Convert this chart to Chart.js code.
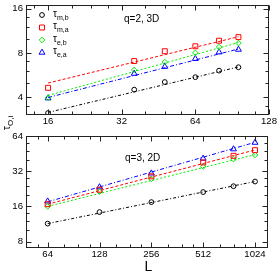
<!DOCTYPE html>
<html><head><meta charset="utf-8">
<script src="https://cdn.jsdelivr.net/npm/chart.js"></script>
<style>
html,body{margin:0;padding:0;background:#fff;}
body{width:280px;height:273px;overflow:hidden;position:relative;font-family:"Liberation Sans",Arial,sans-serif;color:#000;}
canvas{position:absolute;left:0;}
.t{position:absolute;white-space:nowrap;line-height:1;}
.lg{position:absolute;white-space:nowrap;line-height:1;font-size:10px;}
.lg .s{font-size:7px;position:relative;top:3px;}
</style></head><body>
<canvas id="c1" width="280" height="128" style="top:0"></canvas>
<canvas id="c2" width="280" height="145" style="top:128px"></canvas>
<div class="t" style="left:124px;top:13.5px;font-size:10px;">q=2, 3D</div>
<div class="t" style="left:125px;top:152.5px;font-size:10px;">q=3, 2D</div>
<div class="t" style="left:144.5px;top:259px;font-size:14px;">L</div>
<div style="position:absolute;left:5.5px;top:123px;width:0;height:0;">
  <span style="position:absolute;left:0;top:0;white-space:nowrap;line-height:1;font-size:11px;transform:translate(-50%,-50%) rotate(-90deg);">τ<span style="font-size:8px;position:relative;top:3px;">O,i</span></span>
</div>
<div class="lg" style="left:53px;top:8.5px;">τ<span class="s">m,b</span></div>
<div class="lg" style="left:53px;top:21px;">τ<span class="s">m,a</span></div>
<div class="lg" style="left:53px;top:33.5px;">τ<span class="s">e,b</span></div>
<div class="lg" style="left:53px;top:46px;">τ<span class="s">e,a</span></div>
<script>
// ---------- data: top panel (q=2, 3D) ----------
const topL = [16, 36, 48, 64, 80, 96];
const top_tau_mb = [3.12, 4.50, 5.07, 5.47, 6.06, 6.39];
const top_tau_ma = [4.63, 7.04, 8.21, 8.87, 9.68, 10.24];
const top_tau_eb = [3.96, 6.13, 6.93, 8.00, 8.77, 9.33];
const top_tau_ea = [3.94, 5.79, 6.45, 7.30, 8.09, 8.43];
const topFitL = [16, 96];
const top_fit_mb = [3.15, 6.42];
const top_fit_ma = [4.99, 10.3];
const top_fit_eb = [4.11, 9.4];
const top_fit_ea = [3.98, 8.5];
const topXTicks = [16, 32, 64, 128];
const topYTicks = [4, 8, 16];

// ---------- data: bottom panel (q=3, 2D) ----------
const botL = [64, 128, 256, 512, 768, 1024];
const bot_tau_mb = [11.4, 14.3, 17.4, 21.2, 23.8, 26.1];
const bot_tau_ma = [16.7, 22.2, 28.9, 38.0, 43.3, 48.4];
const bot_tau_eb = [16.0, 21.4, 27.5, 35.1, 40.6, 44.1];
const bot_tau_ea = [17.7, 23.4, 30.7, 41.1, 49.4, 56.2];
const botFitL = [64, 1024];
const bot_fit_mb = [11.4, 26.1];
const bot_fit_ma = [16.7, 48.6];
const bot_fit_eb = [16.0, 44.3];
const bot_fit_ea = [17.5, 56.5];
const botXTicks = [64, 128, 256, 512, 1024];
const botYTicks = [8, 16, 32, 64];

const seriesStyle = [
  {color:'#000000', point:'circle',   r:2.4, dash:[3,2,1,2]},
  {color:'#ff0000', point:'rect',     r:3.5, dash:[3,2]},
  {color:'#00ee00', point:'rectRot',  r:2.8, dash:[2,2]},
  {color:'#0000ff', point:'triangle', r:3.4, dash:[4,2,1,2]}
];

function pts(xs, ys){ return xs.map((x,i)=>({x:x, y:ys[i]})); }
function minorTicks(majors, min, max){
  const out = [];
  const base = [majors[0]/2].concat(majors);
  base.forEach(m => [1.25,1.5,1.75].forEach(f => { const v = m*f; if (v > min && v < max) out.push(v); }));
  return out;
}

function drawMarker(ctx, style, x, y, r, color){
  ctx.save();
  ctx.strokeStyle = color; ctx.lineWidth = 1;
  ctx.beginPath();
  if (style === 'circle') { ctx.arc(x, y, r, 0, Math.PI*2); }
  else if (style === 'rect') { const s = Math.SQRT1_2*r; ctx.rect(x-s, y-s, 2*s, 2*s); }
  else if (style === 'rectRot') { ctx.moveTo(x, y-r); ctx.lineTo(x+r, y); ctx.lineTo(x, y+r); ctx.lineTo(x-r, y); ctx.closePath(); }
  else if (style === 'triangle') {
    const a = -Math.PI/2;
    for (let k=0;k<3;k++){ const t = a + k*2*Math.PI/3; const px = x + Math.cos(t)*r, py = y + Math.sin(t)*r; k? ctx.lineTo(px,py) : ctx.moveTo(px,py); }
    ctx.closePath();
  }
  ctx.stroke();
  ctx.restore();
}

const frameTicks = {
  id: 'frameTicks',
  afterDraw(chart, args, o){
    const ctx = chart.ctx, a = chart.chartArea;
    const xs = chart.scales.x, ys = chart.scales.y;
    ctx.save();
    ctx.strokeStyle = '#222'; ctx.lineWidth = 1;
    const L = Math.round(a.left)+0.5, R = Math.round(a.right)-0.5, T = Math.round(a.top)+0.5, B = Math.round(a.bottom)-0.5;
    ctx.strokeRect(L, T, R-L, B-T);
    ctx.beginPath();
    const xt = (vals, len) => vals.forEach(v => { const p = Math.round(xs.getPixelForValue(v))+0.5; ctx.moveTo(p,B); ctx.lineTo(p,B-len); ctx.moveTo(p,T); ctx.lineTo(p,T+len); });
    const yt = (vals, len) => vals.forEach(v => { const p = Math.round(ys.getPixelForValue(v))+0.5; ctx.moveTo(L,p); ctx.lineTo(L+len,p); ctx.moveTo(R,p); ctx.lineTo(R-len,p); });
    xt(o.xMajor, 5); xt(o.xMinor, 3); yt(o.yMajor, 5); yt(o.yMinor, 3);
    ctx.stroke();
    ctx.restore();
    if (o.legend) o.legend.forEach(it => drawMarker(ctx, it.point, it.x, it.y, it.r, it.color));
  }
};

function makeDatasets(xs, series, fitX, fits){
  const ds = [];
  series.forEach((s,i) => {
    const st = seriesStyle[i];
    ds.push({data: pts(xs, s), showLine:false, pointStyle:st.point, pointRadius:st.r, pointBorderWidth:1,
      pointBorderColor:st.color, pointBackgroundColor:'rgba(0,0,0,0)', borderColor:st.color, backgroundColor:'rgba(0,0,0,0)'});
  });
  fits.forEach((f,i) => {
    const st = seriesStyle[i];
    ds.push({data: pts(fitX, f), showLine:true, pointRadius:0, borderWidth:1, borderColor:st.color, borderDash:st.dash, fill:false});
  });
  return ds;
}

function makeChart(id, cfg){
  const tickFont = {family:'"Liberation Sans", Arial, sans-serif', size:9.6};
  return new Chart(document.getElementById(id), {
    type: 'scatter',
    data: {datasets: makeDatasets(cfg.xs, cfg.series, cfg.fitX, cfg.fits)},
    options: {
      responsive:false, animation:false, events:[],
      layout:{padding:cfg.pad},
      plugins:{legend:{display:false}, tooltip:{enabled:false},
        frameTicks:{xMajor:cfg.xTicks, xMinor:minorTicks(cfg.xTicks, cfg.xMin, cfg.xMax),
                    yMajor:cfg.yTicks, yMinor:minorTicks(cfg.yTicks, cfg.yMin, cfg.yMax), legend:cfg.legend}},
      scales:{
        x:{type:'logarithmic', min:cfg.xMin, max:cfg.xMax,
           afterBuildTicks:s => { s.ticks = cfg.xTicks.map(v => ({value:v, major:true})); },
           afterFit:s => { s.height = cfg.xH; s.paddingLeft = 0; s.paddingRight = 0; },
           ticks:{autoSkip:false, maxRotation:0, minRotation:0, padding:1, color:'#000', font:tickFont, callback:v => String(v)},
           grid:{display:false, drawTicks:false, tickLength:0}, border:{display:false}},
        y:{type:'logarithmic', min:cfg.yMin, max:cfg.yMax,
           afterBuildTicks:s => { s.ticks = cfg.yTicks.map(v => ({value:v, major:true})); },
           afterFit:s => { s.width = 26; s.paddingTop = 0; s.paddingBottom = 0; },
           ticks:{autoSkip:false, padding:3, color:'#000', font:tickFont, callback:v => String(v)},
           grid:{display:false, drawTicks:false, tickLength:0}, border:{display:false}}
      }
    },
    plugins:[frameTicks]
  });
}

makeChart('c1', {
  xs: topL, series:[top_tau_mb, top_tau_ma, top_tau_eb, top_tau_ea],
  fitX: topFitL, fits:[top_fit_mb, top_fit_ma, top_fit_eb, top_fit_ea],
  xMin:13, xMax:128, yMin:3.04, yMax:16.93, xTicks:topXTicks, yTicks:topYTicks,
  pad:{left:0, right:11, top:3, bottom:0}, xH:13.3,
  legend: seriesStyle.map((st,i) => ({point:st.point, r:st.r, color:st.color, x:42, y:15 + i*12.5}))
});
makeChart('c2', {
  xs: botL, series:[bot_tau_mb, bot_tau_ma, bot_tau_eb, bot_tau_ea],
  fitX: botFitL, fits:[bot_fit_mb, bot_fit_ma, bot_fit_eb, bot_fit_ea],
  xMin:47.9, xMax:1218, yMin:7.05, yMax:64.6, xTicks:botXTicks, yTicks:botYTicks,
  pad:{left:0, right:12, top:7.5, bottom:0}, xH:25,
  legend: null
});
</script>
</body></html>
